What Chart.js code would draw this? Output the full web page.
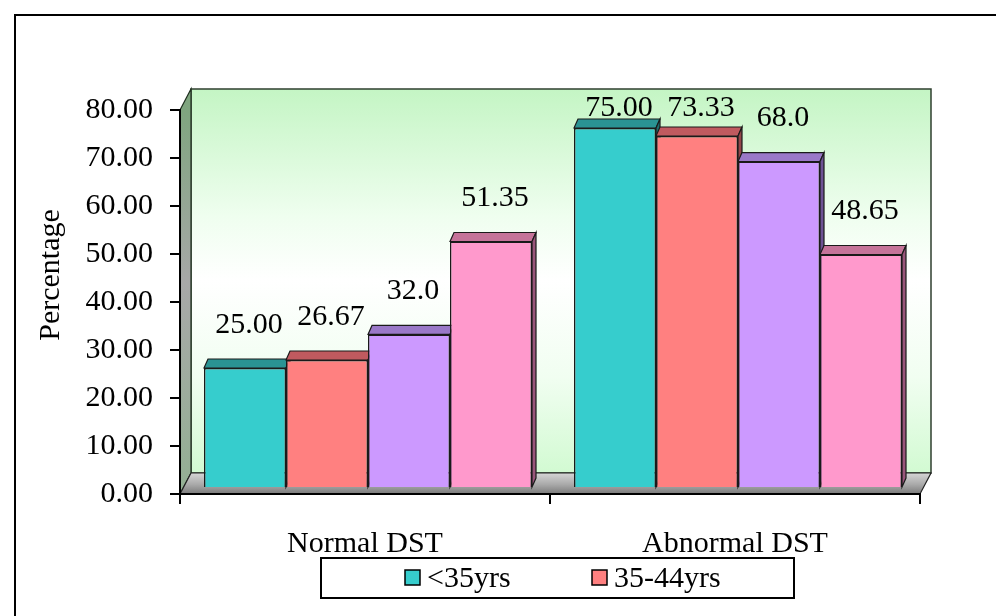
<!DOCTYPE html>
<html>
<head>
<meta charset="utf-8">
<script src="https://cdn.jsdelivr.net/npm/chart.js@4/dist/chart.umd.min.js"></script>
<style>
  html, body { margin: 0; padding: 0; background: #ffffff; }
  #wrap { width: 996px; height: 616px; position: relative; }
</style>
</head>
<body>
<div id="wrap"><canvas id="chart" width="996" height="616"></canvas></div>
<script>
// Categories and series
const categories = ['Normal DST', 'Abnormal DST'];
const seriesNames = ['<35yrs', '35-44yrs', '45-54yrs', '\u226555yrs'];
const under35 = [25.00, 75.00];
const age35to44 = [26.67, 73.33];
const age45to54 = [32.0, 68.0];
const age55plus = [51.35, 48.65];
const labelDecimals = [2, 2, 1, 2];
const yTicks = [0, 10, 20, 30, 40, 50, 60, 70, 80];
const legendShown = 2; // entries visible in the legend strip

const frontColors = ['#36CDCD', '#FF8080', '#CC99FF', '#FF99CC'];
const topColors   = ['#2A9393', '#C05A5F', '#9A78C8', '#C57399'];
const sideColors  = ['#1E6C6C', '#93464A', '#6E5294', '#99557A'];

const FONT = "'Liberation Serif', 'Times New Roman', serif";
const WALL = { dx: 11, dy: 21 };     // depth of back wall
const SHIFT = { dx: 3, dy: 6 };      // bars stand part-way into the floor
const BAR = { dx: 4, dy: 9 };        // bar thickness

function barBoxes(chart) {
  const boxes = [];
  chart.data.datasets.forEach((ds, i) => {
    const meta = chart.getDatasetMeta(i);
    meta.data.forEach((bar, j) => {
      const p = bar.getProps(['x', 'y', 'base', 'width'], true);
      boxes.push({
        ds: i, idx: j,
        left: p.x - p.width / 2 + SHIFT.dx,
        right: p.x + p.width / 2 + SHIFT.dx,
        top: p.y - SHIFT.dy,
        bottom: p.base - SHIFT.dy,
        cx: p.x + SHIFT.dx
      });
    });
  });
  boxes.sort((a, b) => a.left - b.left);
  return boxes;
}

function poly(ctx, pts, fill, stroke, lw) {
  ctx.beginPath();
  ctx.moveTo(pts[0][0], pts[0][1]);
  for (let k = 1; k < pts.length; k++) ctx.lineTo(pts[k][0], pts[k][1]);
  ctx.closePath();
  if (fill) { ctx.fillStyle = fill; ctx.fill(); }
  if (stroke) { ctx.strokeStyle = stroke; ctx.lineWidth = lw || 1; ctx.stroke(); }
}

const box3d = {
  id: 'box3d',
  beforeDraw(chart) {
    const ctx = chart.ctx;
    const a = chart.chartArea;
    const ys = chart.scales.y;
    const top = ys.getPixelForValue(80);
    const bot = ys.getPixelForValue(0);
    ctx.save();

    // back wall
    const g = ctx.createLinearGradient(0, top - WALL.dy, 0, bot - WALL.dy);
    g.addColorStop(0, '#c4f5c4');
    g.addColorStop(0.33, '#effeef');
    g.addColorStop(0.5, '#ffffff');
    g.addColorStop(0.75, '#f1fef1');
    g.addColorStop(1, '#d2fad2');
    poly(ctx, [[a.left + WALL.dx, top - WALL.dy], [a.right + WALL.dx, top - WALL.dy],
               [a.right + WALL.dx, bot - WALL.dy], [a.left + WALL.dx, bot - WALL.dy]], g, '#2f3f2f', 1.5);

    // left side wall
    const gs = ctx.createLinearGradient(0, top, 0, bot);
    gs.addColorStop(0, '#7fa57f');
    gs.addColorStop(0.45, '#a8a8a8');
    gs.addColorStop(1, '#93b093');
    poly(ctx, [[a.left, top], [a.left + WALL.dx, top - WALL.dy],
               [a.left + WALL.dx, bot - WALL.dy], [a.left, bot]], gs, '#1f2f1f', 1.2);

    // floor
    const gf = ctx.createLinearGradient(0, bot - WALL.dy, 0, bot);
    gf.addColorStop(0, '#d6d6d6');
    gf.addColorStop(0.55, '#a9a9a9');
    gf.addColorStop(1, '#7a7a7a');
    poly(ctx, [[a.left + WALL.dx, bot - WALL.dy], [a.right + WALL.dx, bot - WALL.dy],
               [a.right, bot], [a.left, bot]], gf, '#222222', 1.2);

    // bar tops and sides, left to right
    barBoxes(chart).forEach(b => {
      poly(ctx, [[b.left, b.top], [b.left + BAR.dx, b.top - BAR.dy],
                 [b.right + BAR.dx, b.top - BAR.dy], [b.right, b.top]], topColors[b.ds], '#1a1a1a', 1.2);
      poly(ctx, [[b.right, b.top], [b.right + BAR.dx, b.top - BAR.dy],
                 [b.right + BAR.dx, b.bottom - BAR.dy], [b.right, b.bottom]], sideColors[b.ds], '#1a1a1a', 1.2);
    });
    ctx.restore();
  },
  beforeDatasetDraw(chart) {
    chart.ctx.save();
    chart.ctx.translate(SHIFT.dx, -SHIFT.dy);
  },
  afterDatasetDraw(chart) {
    chart.ctx.restore();
  },
  afterDatasetsDraw(chart) {
    const ctx = chart.ctx;
    ctx.save();
    ctx.font = '30px ' + FONT;
    ctx.fillStyle = '#000';
    ctx.textAlign = 'center';
    ctx.textBaseline = 'middle';
    barBoxes(chart).forEach(b => {
      const v = chart.data.datasets[b.ds].data[b.idx];
      const y = Math.max(b.top - 43, 108);
      ctx.fillText(v.toFixed(labelDecimals[b.ds]), b.cx + 4, y);
    });
    ctx.restore();
  },
  afterDraw(chart) {
    const ctx = chart.ctx;
    ctx.save();
    // outer frame
    ctx.strokeStyle = '#000';
    ctx.lineWidth = 2;
    ctx.strokeRect(15, 15, 1200, 1000);

    // axis title
    ctx.font = '30px ' + FONT;
    ctx.fillStyle = '#000';
    ctx.translate(51, 275);
    ctx.rotate(-Math.PI / 2);
    ctx.textAlign = 'center';
    ctx.textBaseline = 'middle';
    ctx.fillText('Percentage', 0, 0);
    ctx.restore();

    // legend strip
    ctx.save();
    ctx.strokeStyle = '#000';
    ctx.lineWidth = 2;
    ctx.strokeRect(321, 558, 473, 40);
    ctx.font = '30px ' + FONT;
    ctx.textBaseline = 'middle';
    ctx.textAlign = 'left';
    const itemX = [405, 592];
    for (let i = 0; i < legendShown; i++) {
      const ds = chart.data.datasets[i];
      ctx.fillStyle = ds.backgroundColor;
      ctx.fillRect(itemX[i], 570, 15, 15);
      ctx.lineWidth = 1.5;
      ctx.strokeStyle = '#000';
      ctx.strokeRect(itemX[i], 570, 15, 15);
      ctx.fillStyle = '#000';
      ctx.fillText(ds.label, itemX[i] + 22, 579);
    }
    ctx.restore();
  }
};

const seriesValues = [under35, age35to44, age45to54, age55plus];

new Chart(document.getElementById('chart'), {
  type: 'bar',
  data: {
    labels: categories,
    datasets: seriesValues.map((vals, i) => ({
      label: seriesNames[i],
      data: vals,
      backgroundColor: frontColors[i],
      borderColor: '#1a1a1a',
      borderWidth: 1.5,
      categoryPercentage: 0.8865,
      barPercentage: 1.0,
      clip: false
    }))
  },
  options: {
    responsive: false,
    animation: false,
    devicePixelRatio: 1,
    layout: { padding: { left: 0, top: 110, right: 76, bottom: 0 } },
    plugins: {
      legend: { display: false },
      tooltip: { enabled: false }
    },
    scales: {
      x: {
        grid: { offset: true, drawOnChartArea: false, drawTicks: true, tickLength: 10, color: '#000', lineWidth: 2 },
        border: { display: true, color: '#000', width: 2 },
        ticks: { color: '#000', font: { family: FONT, size: 30 }, padding: 22, maxRotation: 0 },
        afterFit(scale) { scale.height = 122; }
      },
      y: {
        min: yTicks[0],
        max: yTicks[yTicks.length - 1],
        afterBuildTicks(scale) { scale.ticks = yTicks.map(v => ({ value: v })); },
        grid: { drawOnChartArea: false, drawTicks: true, tickLength: 10, color: '#000', lineWidth: 2 },
        border: { display: true, color: '#000', width: 2 },
        ticks: {
          color: '#000',
          font: { family: FONT, size: 30 },
          padding: 17,
          callback: v => Number(v).toFixed(2)
        },
        afterFit(scale) { scale.width = 180; }
      }
    }
  },
  plugins: [box3d]
});
</script>
</body>
</html>
